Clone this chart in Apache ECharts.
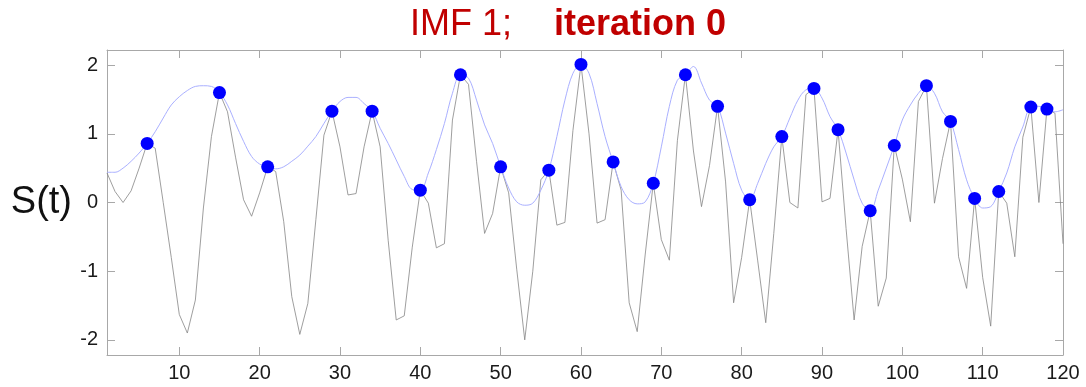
<!DOCTYPE html>
<html>
<head>
<meta charset="utf-8">
<script src="https://cdn.jsdelivr.net/npm/echarts@6/dist/echarts.min.js"></script>
<style>
  html, body { margin: 0; padding: 0; background: #ffffff; }
  #chart { width: 1086px; height: 387px; }
</style>
</head>
<body>
<div id="chart"></div>
<script>
// Sample signal S(t), t = 1..120
const signal = [
  0.43, 0.16, 0.00, 0.17, 0.50, 0.86, 0.79, 0.00, -0.80, -1.63,
  -1.90, -1.42, -0.08, 0.96, 1.60, 1.32, 0.66, 0.04, -0.20, 0.14,
  0.52, 0.45, -0.28, -1.37, -1.92, -1.47, -0.25, 0.98, 1.33, 0.81,
  0.11, 0.13, 0.81, 1.33, 0.81, -0.55, -1.71, -1.65, -0.65, 0.18,
  -0.01, -0.66, -0.60, 1.20, 1.86, 1.72, 0.60, -0.45, -0.16, 0.52,
  0.14, -0.97, -2.00, -1.00, 0.33, 0.47, -0.33, -0.29, 1.05, 2.01,
  1.00, -0.30, -0.25, 0.59, 0.18, -1.46, -1.88, -0.75, 0.28, -0.54,
  -0.84, 0.90, 1.86, 0.75, -0.06, 0.54, 1.40, 0.30, -1.46, -0.80,
  0.04, -0.85, -1.75, -0.45, 0.96, 0.00, -0.08, 1.57, 1.66, 0.01,
  0.06, 1.06, -0.38, -1.71, -0.64, -0.12, -1.51, -1.10, 0.83, 0.34,
  -0.28, 1.47, 1.70, -0.01, 0.64, 1.18, -0.79, -1.25, 0.06, -1.09,
  -1.80, 0.16, -0.01, -0.79, 0.95, 1.39, 0.00, 1.36, 1.30, -0.60
];

// Upper envelope through the local maxima, t = 1..120
const upperEnvelope = [
  0.44, 0.44, 0.50, 0.60, 0.72, 0.86, 1.03, 1.23, 1.42, 1.54,
  1.63, 1.69, 1.70, 1.69, 1.60, 1.42, 1.15, 0.89, 0.67, 0.56,
  0.52, 0.49, 0.52, 0.60, 0.69, 0.82, 0.96, 1.15, 1.33, 1.47,
  1.53, 1.53, 1.44, 1.33, 1.08, 0.86, 0.62, 0.38, 0.19, 0.18,
  0.43, 0.77, 1.15, 1.59, 1.86, 1.81, 1.49, 1.13, 0.86, 0.52,
  0.21, 0.01, -0.04, -0.01, 0.18, 0.47, 0.96, 1.49, 1.88, 2.01,
  1.88, 1.44, 0.96, 0.59, 0.23, 0.04, -0.02, 0.01, 0.28, 0.81,
  1.40, 1.78, 1.86, 1.98, 1.74, 1.49, 1.40, 1.01, 0.57, 0.18,
  0.04, 0.28, 0.57, 0.81, 0.96, 1.23, 1.49, 1.64, 1.66, 1.52,
  1.25, 1.06, 0.72, 0.33, -0.01, -0.12, 0.18, 0.50, 0.83, 1.20,
  1.42, 1.59, 1.70, 1.59, 1.32, 1.18, 0.77, 0.33, 0.06, -0.08,
  -0.06, 0.16, 0.43, 0.81, 1.10, 1.39, 1.40, 1.36, 1.32, 1.35
];

// Positions (t) of the local maxima of the signal
const maximaT = [6, 15, 21, 29, 34, 40, 45, 50, 56, 60, 64, 69, 73, 77, 81,
                 85, 89, 92, 96, 99, 103, 106, 109, 112, 116, 118];

const xTicks = [10, 20, 30, 40, 50, 60, 70, 80, 90, 100, 110, 120];
const yTicks = [-2, -1, 0, 1, 2];

const signalData = signal.map((v, i) => [i + 1, v]);
const envelopeData = upperEnvelope.map((v, i) => [i + 1, v]);
const maximaData = maximaT.map(t => [t, signal[t - 1]]);

const boxColor = '#a8a8a8';
const labelFont = 'Liberation Sans, Arial, sans-serif';

function frameAxis(extra) {
  return Object.assign({
    type: 'value',
    axisLine: { show: true, onZero: false, lineStyle: { color: boxColor, width: 1 } },
    splitLine: { show: false }
  }, extra);
}

const chart = echarts.init(document.getElementById('chart'), null, { renderer: 'canvas' });

chart.setOption({
  animation: false,
  backgroundColor: '#ffffff',
  title: {
    text: '{n|IMF 1;}{b|iteration 0}',
    left: 405,
    top: 2,
    textStyle: {
      fontWeight: 'normal',
      rich: {
        n: { fontFamily: labelFont, fontSize: 36, fontWeight: 'normal', color: '#c00000',
             padding: [0, 42, 0, 0] },
        b: { fontFamily: labelFont, fontSize: 36, fontWeight: 'bold', color: '#c00000' }
      }
    }
  },
  grid: { left: 107, right: 23, top: 50, bottom: 32 },
  xAxis: [
    frameAxis({
      min: 1, max: 120, position: 'bottom',
      axisTick: { show: true, inside: true, length: 8, customValues: xTicks,
                  lineStyle: { color: boxColor } },
      axisLabel: { show: true, customValues: xTicks, margin: 8, fontSize: 20,
                   fontFamily: labelFont, color: '#1a1a1a' }
    }),
    frameAxis({
      min: 1, max: 120, position: 'top',
      axisTick: { show: true, inside: true, length: 8, customValues: xTicks,
                  lineStyle: { color: boxColor } },
      axisLabel: { show: false }
    })
  ],
  yAxis: [
    frameAxis({
      min: -2.22, max: 2.22, position: 'left',
      name: 'S(t)', nameLocation: 'middle', nameRotate: 0, nameGap: 35,
      nameTextStyle: { fontSize: 38, fontFamily: labelFont, color: '#111111' },
      axisTick: { show: true, inside: true, length: 8, customValues: yTicks,
                  lineStyle: { color: boxColor } },
      axisLabel: { show: true, customValues: yTicks, margin: 9, fontSize: 20,
                   fontFamily: labelFont, color: '#1a1a1a' }
    }),
    frameAxis({
      min: -2.22, max: 2.22, position: 'right',
      axisTick: { show: true, inside: true, length: 8, customValues: yTicks,
                  lineStyle: { color: boxColor } },
      axisLabel: { show: false }
    })
  ],
  series: [
    {
      name: 'signal', type: 'line', xAxisIndex: 0, yAxisIndex: 0,
      data: signalData, symbol: 'none', smooth: false,
      lineStyle: { color: '#858585', width: 0.8 },
      z: 2
    },
    {
      name: 'upper envelope', type: 'line', xAxisIndex: 0, yAxisIndex: 0,
      data: envelopeData, symbol: 'none', smooth: 0.35,
      lineStyle: { color: '#aab0ff', width: 1 },
      z: 3
    },
    {
      name: 'maxima', type: 'scatter', xAxisIndex: 0, yAxisIndex: 0,
      data: maximaData, symbol: 'circle', symbolSize: 13,
      itemStyle: { color: '#0000ff', opacity: 1 },
      z: 4
    }
  ]
});
</script>
</body>
</html>
